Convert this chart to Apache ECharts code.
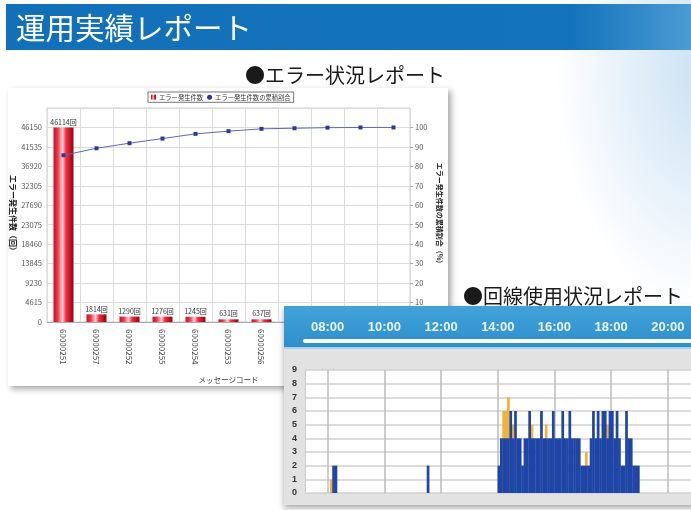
<!DOCTYPE html>
<html><head><meta charset="utf-8">
<script src="https://cdn.jsdelivr.net/npm/echarts@6/dist/echarts.min.js"></script>
<style>
html,body{margin:0;padding:0;width:691px;height:510px;overflow:hidden;}
body{background:radial-gradient(ellipse 150px 240px at 705px 70px, rgba(196,222,242,0.9), rgba(255,255,255,0) 100%), #fff;}
#c{width:691px;height:510px;}
</style></head><body><div id="c"></div>
<script>
// ---- エラー状況レポート ----
const errorCodes = ["60000251","60000257","60000252","60000255","60000254","60000253","60000256","60000258","60000259","60000250","60000260"];
const errorCounts = [46114, 1814, 1290, 1276, 1245, 631, 637, 312, 148, 81, 52];
const cumulativeRatio = [85.7, 89.3, 91.9, 94.3, 96.7, 98.1, 99.3, 99.6, 99.9, 100, 100];
const countAxisMax = 50765, countAxisStep = 4615;
const ratioAxisMax = 110, ratioAxisStep = 10;

// ---- 回線使用状況レポート ----
const usageTickTimes = ["08:00","10:00","12:00","14:00","16:00","18:00","20:00"];
const usageAxisRange = ["07:12","20:49"];
const slotMinutes = 5;
const orangeTimes = ["08:05","14:10","14:15","14:20","14:30","15:10","15:40","17:05","17:50"];
const orangeCounts = [1, 6, 6, 7, 5, 5, 5, 3, 5];
const blueTimes = ["08:10","08:15","11:30",
 "14:00","14:05","14:10","14:15","14:20","14:25","14:30","14:35","14:40","14:45","14:50","14:55",
 "15:00","15:05","15:10","15:15","15:20","15:25","15:30","15:35","15:40","15:45","15:50","15:55",
 "16:00","16:05","16:10","16:15","16:20","16:25","16:30","16:35","16:40","16:45","16:50","16:55",
 "17:00","17:05","17:10","17:15","17:20","17:25","17:30","17:35","17:40","17:45","17:50","17:55",
 "18:00","18:05","18:10","18:15","18:20","18:25","18:30","18:35","18:40","18:45","18:50","18:55"];
const blueCounts = [2, 2, 2,
 2,4,4,4,4,6,4,6,4,4,2,4,
 4,6,4,4,4,4,6,4,4,4,4,6,
 4,4,4,6,4,4,6,4,4,4,4,2,
 2,2,2,4,6,4,6,4,6,6,4,6,
 6,4,6,4,2,2,6,4,4,2,2,2];

const toH = t => { const p = t.split(':').map(Number); return p[0] + p[1] / 60; };
const slotCenter = t => toH(t) + slotMinutes / 120;
const fmt = v => { const h = Math.floor(v + 1e-6); const m = Math.round((v - h) * 60); return String(h).padStart(2,'0') + ':' + String(m).padStart(2,'0'); };
const xMin = toH(usageAxisRange[0]), xMax = toH(usageAxisRange[1]);
const tickHours = usageTickTimes.map(toH);
const orangeData = orangeTimes.map((t, i) => [slotCenter(t), orangeCounts[i]]);
const blueData = blueTimes.map((t, i) => [slotCenter(t), blueCounts[i]]);

const JP = '"Noto Sans CJK JP", "Noto Sans", sans-serif';
const chart = echarts.init(document.getElementById('c'), null, {renderer:'canvas'});
chart.setOption({
  animation: false,
  textStyle: {fontFamily: JP},
  graphic: {elements: [
    {type:'rect', zlevel:0, z:-5, shape:{x:6,y:4,width:690,height:46},
     style:{fill:{type:'linear',x:0,y:0,x2:1,y2:0,colorStops:[{offset:0,color:'#1170b8'},{offset:0.82,color:'#1373bb'},{offset:1,color:'#4d9dd4'}]}}},
    {type:'text', zlevel:0, z:10, x:16, y:28, style:{text:'運用実績レポート', fill:'#fff', font:'29.5px "Noto Sans CJK JP"', verticalAlign:'middle', align:'left'}},
    {type:'text', zlevel:0, z:10, x:245, y:75, style:{text:'●エラー状況レポート', fill:'#1a1a1a', font:'20px "Noto Sans CJK JP"', verticalAlign:'middle', align:'left'}},
    {type:'rect', zlevel:0, z:-5, shape:{x:8,y:88,width:440,height:298},
     style:{fill:'#fff', shadowBlur:6, shadowColor:'rgba(0,0,0,0.35)', shadowOffsetX:3, shadowOffsetY:3}},
    {type:'text', zlevel:1, z:10, x:463, y:296, style:{text:'●回線使用状況レポート', fill:'#1a1a1a', font:'20px "Noto Sans CJK JP"', verticalAlign:'middle', align:'left'}},
    {type:'rect', zlevel:1, z:0, shape:{x:284,y:306,width:420,height:199},
     style:{fill:'#e2e2e2', shadowBlur:6, shadowColor:'rgba(0,0,0,0.35)', shadowOffsetX:0, shadowOffsetY:3}},
    {type:'rect', zlevel:1, z:1, shape:{x:284,y:306,width:420,height:41},
     style:{fill:{type:'linear',x:0,y:0,x2:0,y2:1,colorStops:[{offset:0,color:'#42a2da'},{offset:1,color:'#2f8fca'}]}}},
    {type:'rect', zlevel:1, z:1, shape:{x:284,y:347,width:420,height:2}, style:{fill:'#a9d4ee'}}
  ]},
  legend: {
    left:148, top:92, zlevel:0, z:5,
    data:[{name:'エラー発生件数', icon:'rect'}, {name:'エラー発生件数の累積割合', icon:'circle'}],
    borderColor:'#777', borderWidth:1, padding:[2,3], itemWidth:5, itemHeight:5, itemGap:4,
    backgroundColor:'#fff', textStyle:{fontSize:6.3, color:'#333', padding:[0,0,0,-2]}
  },
  grid: [
    {left:47, top:108, width:363, height:214, show:true, borderColor:'#cfcfcf', borderWidth:1, backgroundColor:'#fff', zlevel:0, z:1, outerBoundsMode:'none', containLabel:false},
    {left:305, top:300, right:0, height:41, zlevel:1, z:5, outerBoundsMode:'none', containLabel:false},
    {left:305, top:370, right:0, height:123, show:true, borderWidth:0, backgroundColor:'#fff', zlevel:1, z:5, outerBoundsMode:'none', containLabel:false}
  ],
  xAxis: [
    {type:'category', gridIndex:0, data:errorCodes, zlevel:0, z:3,
     axisLine:{lineStyle:{color:'#aaa'}}, axisTick:{show:false},
     axisLabel:{rotate:-90, interval:0, fontSize:8, color:'#444', margin:7},
     splitLine:{show:true, lineStyle:{color:'#dcdcdc'}},
     name:'メッセージコード', nameLocation:'middle', nameGap:54, nameMoveOverlap:false, nameTextStyle:{fontSize:7.5, color:'#333'}},
    {type:'value', gridIndex:1, min:xMin, max:xMax, zlevel:1, z:6,
     axisLine:{show:true, lineStyle:{color:'#ffffff', width:4, cap:'round'}}, axisTick:{show:false},
     axisLabel:{inside:true, customValues:tickHours, formatter:fmt, color:'#e8f4fc', fontSize:13, fontWeight:'bold', fontFamily:'"Liberation Sans", sans-serif', margin:7},
     splitLine:{show:false}},
    {type:'value', gridIndex:2, min:xMin, max:xMax, zlevel:1, z:6,
     axisLine:{show:false}, axisTick:{show:false, customValues:tickHours},
     axisLabel:{show:false, customValues:tickHours},
     splitLine:{show:true, lineStyle:{color:'#bdbdbd', width:1.5}}}
  ],
  yAxis: [
    {type:'value', gridIndex:0, min:0, max:countAxisMax, interval:countAxisStep, position:'left', zlevel:0, z:3,
     axisLabel:{fontSize:7.5, color:'#555', showMaxLabel:false, margin:5, formatter:v => String(v)},
     axisLine:{show:false}, axisTick:{show:false},
     splitLine:{lineStyle:{color:'#dcdcdc'}},
     name:'エラー発生件数（回）', nameLocation:'middle', nameRotate:-90, nameGap:30, nameMoveOverlap:false,
     nameTextStyle:{fontSize:8, color:'#222', fontWeight:'bold'}},
    {type:'value', gridIndex:0, min:0, max:ratioAxisMax, interval:ratioAxisStep, position:'right', zlevel:0, z:3,
     axisLabel:{fontSize:7.5, color:'#555', showMaxLabel:false, margin:5},
     axisLine:{show:false}, axisTick:{show:true, length:3, lineStyle:{color:'#aaa'}},
     splitLine:{show:false},
     name:'エラー発生件数の累積割合（%）', nameLocation:'middle', nameRotate:-90, nameGap:26, nameMoveOverlap:false,
     nameTextStyle:{fontSize:7, color:'#222', fontWeight:'bold'}},
    {type:'value', gridIndex:2, min:0, max:9, interval:1, zlevel:1, z:6,
     axisLine:{show:true, lineStyle:{color:'#cccccc'}}, axisTick:{show:false},
     axisLabel:{fontSize:9, fontWeight:'bold', color:'#333', margin:8, fontFamily:'"Liberation Sans", sans-serif'},
     splitLine:{lineStyle:{color:'#d0d0d0', width:1.5}}},
    {type:'value', gridIndex:1, show:false}
  ],
  series: [
    {name:'エラー発生件数', type:'bar', xAxisIndex:0, yAxisIndex:0, data:errorCounts, barWidth:20, zlevel:0, z:3,
     itemStyle:{color:{type:'linear',x:0,y:0,x2:1,y2:0,colorStops:[
       {offset:0,color:'#c81020'},{offset:0.22,color:'#ee3a4a'},{offset:0.45,color:'#ffd2d8'},{offset:0.62,color:'#ec3444'},{offset:0.85,color:'#c01020'},{offset:1,color:'#8a0a14'}]}},
     label:{show:true, position:'top', distance:2, fontSize:7, color:'#333', formatter:p => p.value + '回'}},
    {name:'エラー発生件数の累積割合', type:'line', xAxisIndex:0, yAxisIndex:1, data:cumulativeRatio, zlevel:0, z:4,
     symbol:'rect', symbolSize:4, lineStyle:{color:'#5b6bbd', width:1}, itemStyle:{color:'#2a3a95'}},
    {name:'回線使用数（予備）', type:'bar', xAxisIndex:2, yAxisIndex:2, data:orangeData, barWidth:'115%', barGap:'-100%', zlevel:1, z:7,
     itemStyle:{color:'#f2b236'}},
    {name:'回線使用数', type:'bar', xAxisIndex:2, yAxisIndex:2, data:blueData, barWidth:'115%', barGap:'-100%', zlevel:1, z:8,
     itemStyle:{color:'#1f45a6'}}
  ]
});
</script></body></html>
